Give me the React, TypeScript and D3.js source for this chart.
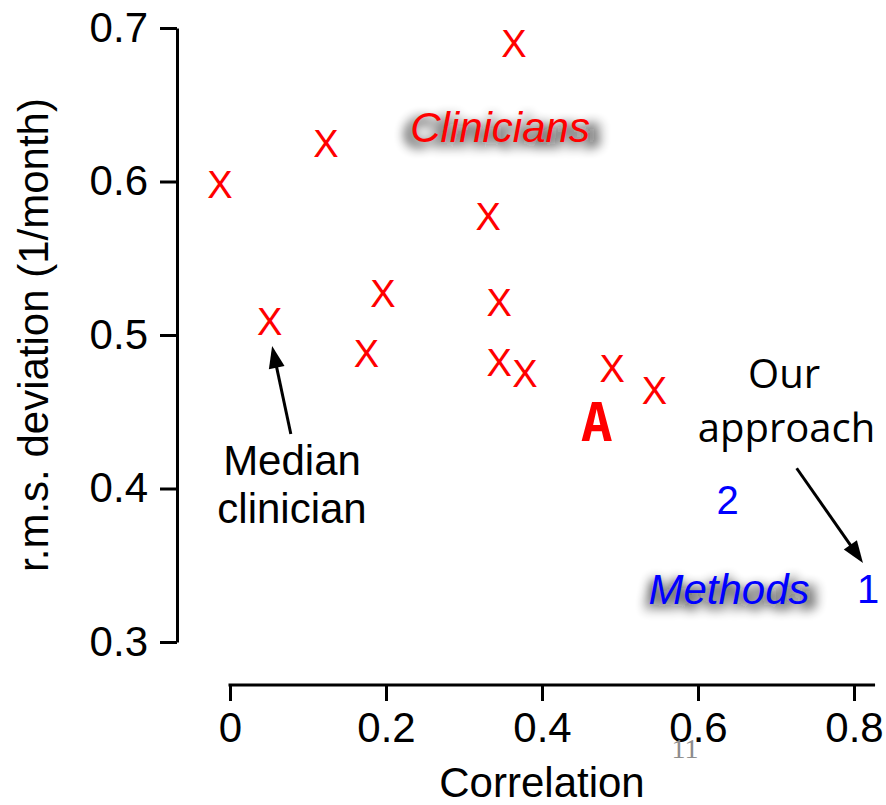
import React, { useEffect, useRef } from "react";
import * as d3 from "d3";

// Clinicians (red X markers)
const clinicianCorrelation = [-0.013, 0.123, 0.364, 0.331, 0.051, 0.196, 0.175, 0.345, 0.345, 0.378, 0.49, 0.544];
const clinicianRms = [0.598, 0.625, 0.69, 0.577, 0.509, 0.527, 0.488, 0.521, 0.482, 0.475, 0.478, 0.464];

// Labelled points
const pointLabels = ["A", "2", "1"];
const pointCorrelation = [0.47, 0.638, 0.818];
const pointRms = [0.4435, 0.3925, 0.335];
const pointColors = ["#ff0000", "#0000ff", "#0000ff"];

const xTicks = [0, 0.2, 0.4, 0.6, 0.8];
const yTicks = [0.3, 0.4, 0.5, 0.6, 0.7];

const W = 886;
const H = 805;
const FONT = "'Liberation Sans', Arial, Helvetica, sans-serif";

const x = d3.scaleLinear().domain([0, 0.8]).range([230, 854]);
const y = d3.scaleLinear().domain([0.3, 0.7]).range([642, 28]);

function Arrow({ from, to }: { from: [number, number]; to: [number, number] }) {
  const x1 = x(from[0]);
  const y1 = y(from[1]);
  const x2 = x(to[0]);
  const y2 = y(to[1]);
  const dx = x2 - x1;
  const dy = y2 - y1;
  const len = Math.hypot(dx, dy);
  const ux = dx / len;
  const uy = dy / len;
  const hl = 22;
  const hw = 8;
  const bx = x2 - ux * hl;
  const by = y2 - uy * hl;
  const px = -uy;
  const py = ux;
  const pts = [
    [x2, y2],
    [bx + px * hw, by + py * hw],
    [bx - px * hw, by - py * hw],
  ]
    .map((p) => p.join(","))
    .join(" ");
  return (
    <g>
      <line x1={x1} y1={y1} x2={bx + ux * 2} y2={by + uy * 2} stroke="#000" strokeWidth={3} />
      <polygon points={pts} fill="#000" />
    </g>
  );
}

function ShadowLabel({ cx, cy, text, color }: { cx: number; cy: number; text: string; color: string }) {
  return (
    <g>
      <text
        x={x(cx) + 3}
        y={y(cy) + 5}
        textAnchor="middle"
        fontSize={42}
        fontStyle="italic"
        fontWeight="bold"
        fill="#111"
        opacity={0.9}
        filter="url(#soft)"
      >
        {text}
      </text>
      <text x={x(cx)} y={y(cy)} textAnchor="middle" fontSize={42} fontStyle="italic" fill={color}>
        {text}
      </text>
    </g>
  );
}

export default function App() {
  const xRef = useRef<SVGGElement>(null);
  const yRef = useRef<SVGGElement>(null);

  useEffect(() => {
    const gx = d3.select(xRef.current as SVGGElement);
    gx.selectAll("*").remove();
    gx.call(
      d3
        .axisBottom(x)
        .tickValues(xTicks)
        .tickSize(16)
        .tickSizeOuter(0)
        .tickPadding(11)
        .tickFormat((d) => d3.format("")(d as number))
    );
    gx.select(".domain").remove();
    gx.append("line")
      .attr("x1", x(0) - 1.5)
      .attr("x2", x(0.827))
      .attr("y1", 0)
      .attr("y2", 0)
      .attr("stroke", "#000")
      .attr("stroke-width", 3);
    gx.selectAll(".tick line").attr("stroke-width", 3);
    gx.selectAll(".tick text").attr("font-size", 42).attr("font-family", FONT).attr("fill", "#000");

    const gy = d3.select(yRef.current as SVGGElement);
    gy.selectAll("*").remove();
    gy.call(
      d3
        .axisLeft(y)
        .tickValues(yTicks)
        .tickSize(17)
        .tickSizeOuter(0)
        .tickPadding(12)
        .tickFormat((d) => d3.format(".1f")(d as number))
    );
    gy.select(".domain").attr("stroke-width", 3);
    gy.selectAll(".tick line").attr("stroke-width", 3);
    gy.selectAll(".tick text").attr("font-size", 42).attr("font-family", FONT).attr("fill", "#000");
  }, []);

  return (
    <svg
      width={W}
      height={H}
      style={{ position: "absolute", left: 0, top: 0, background: "#fff" }}
      fontFamily={FONT}
    >
      <defs>
        <filter id="soft" x="-30%" y="-80%" width="160%" height="260%">
          <feGaussianBlur stdDeviation="6" />
        </filter>
      </defs>
      <rect width={W} height={H} fill="#fff" />

      <g ref={yRef} transform="translate(177,0)" />
      <g ref={xRef} transform="translate(0,685)" />

      {/* axis titles */}
      <text x={x(0.4)} y={797} textAnchor="middle" fontSize={42} fill="#000">
        Correlation
      </text>
      <text
        transform={`translate(48,${y(0.5)}) rotate(-90)`}
        textAnchor="middle"
        fontSize={42}
        fill="#000"
      >
        r.m.s. deviation (1/month)
      </text>

      {/* group labels with blurred shadows */}
      <ShadowLabel cx={0.3462} cy={0.6257} text="Clinicians" color="#ff0000" />
      <ShadowLabel cx={0.6397} cy={0.3248} text="Methods" color="#0000ff" />

      {/* clinician markers */}
      {clinicianCorrelation.map((c, i) => (
        <text
          key={i}
          x={x(c)}
          y={y(clinicianRms[i])}
          dy="0.36em"
          textAnchor="middle"
          fontSize={38}
          fill="#ff0000"
        >
          X
        </text>
      ))}

      {/* labelled points */}
      {pointLabels.map((l, i) => (
        <text
          key={l}
          x={x(pointCorrelation[i])}
          y={y(pointRms[i])}
          dy="0.36em"
          textAnchor="middle"
          fontSize={l === "A" ? 53 : 40}
          fontWeight={l === "A" ? "bold" : "normal"}
          fontFamily={l === "A" ? "'DejaVu Sans Mono', monospace" : FONT}
          fill={pointColors[i]}
        >
          {l}
        </text>
      ))}

      {/* annotations */}
      <text x={x(0.0795)} y={y(0.4088)} textAnchor="middle" fontSize={42} fill="#000">
        Median
      </text>
      <text x={x(0.0795)} y={y(0.3775)} textAnchor="middle" fontSize={42} fill="#000">
        clinician
      </text>
      <Arrow from={[0.078, 0.4355]} to={[0.054, 0.4928]} />

      <text x={x(0.7103)} y={y(0.4655)} textAnchor="middle" fontSize={40} fill="#000" fontFamily="'Open Sans', sans-serif">
        Our
      </text>
      <text x={x(0.7135)} y={y(0.4303)} textAnchor="middle" fontSize={40} fill="#000" fontFamily="'Open Sans', sans-serif">
        approach
      </text>
      <Arrow from={[0.7265, 0.4132]} to={[0.8115, 0.3515]} />

      {/* slide number */}
      <text x={685} y={758} textAnchor="middle" fontSize={28} fill="#8c8c8c" fontFamily="'Liberation Serif', serif">
        11
      </text>
    </svg>
  );
}
